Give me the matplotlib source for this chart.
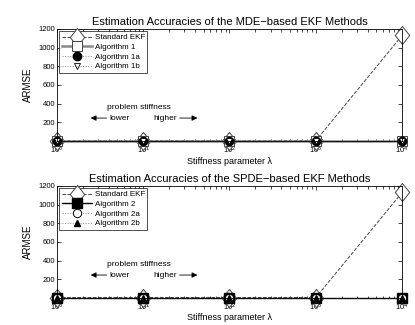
import matplotlib
matplotlib.use("Agg")
import matplotlib.pyplot as plt

plt.rcParams['font.family'] = ['Liberation Sans', 'DejaVu Sans']

# stiffness parameter values
lam = [1, 10, 100, 1000, 10000]

# ARMSE values
std_ekf = [5, 5, 5, 5, 1130]
alg1 = [1, 1, 1, 1, 1]
alg1a = [1, 1, 1, 1, 1]
alg1b = [1, 1, 1, 1, 1]
alg2 = [1, 1, 1, 1, 1]
alg2a = [1, 1, 1, 1, 1]
alg2b = [1, 1, 1, 1, 1]

titles = ['Estimation Accuracies of the MDE\u2212based EKF Methods',
          'Estimation Accuracies of the SPDE\u2212based EKF Methods']
yticks = [200, 400, 600, 800, 1000, 1200]

# MATLAB-like diamond (a bit taller than wide)
diamond = [(0, 1), (0.8, 0), (0, -1), (-0.8, 0), (0, 1)]

fig = plt.figure(figsize=(4.15, 3.25), dpi=100)
ax1 = fig.add_axes([0.137, 0.566, 0.832, 0.345])
ax2 = fig.add_axes([0.137, 0.083, 0.832, 0.345])

# top panel
ax1.plot(lam, std_ekf, '--', color='#444444', lw=0.7, marker=diamond, ms=13,
         mfc='white', mec='#444444', mew=0.7, label='Standard EKF', clip_on=False)
ax1.plot(lam, alg1, '-', color='#888888', lw=1.8, marker='s', ms=7,
         mfc='white', mec='#444444', mew=0.7, label='Algorithm 1', clip_on=False)
ax1.plot(lam, alg1a, ':', color='#888888', lw=0.7, marker='o', ms=6,
         mfc='black', mec='black', label='Algorithm 1a', clip_on=False)
ax1.plot(lam, alg1b, ':', color='#888888', lw=0.7, marker='v', ms=4,
         mfc='white', mec='black', mew=0.6, label='Algorithm 1b', clip_on=False)

# bottom panel
ax2.plot(lam, std_ekf, '--', color='#444444', lw=0.7, marker=diamond, ms=13,
         mfc='white', mec='#444444', mew=0.7, label='Standard EKF', clip_on=False)
ax2.plot(lam, alg2, '-', color='black', lw=1.0, marker='s', ms=7,
         mfc='black', mec='black', label='Algorithm 2', clip_on=False)
ax2.plot(lam, alg2a, ':', color='#888888', lw=0.7, marker='o', ms=6,
         mfc='white', mec='black', mew=0.7, label='Algorithm 2a', clip_on=False)
ax2.plot(lam, alg2b, ':', color='#888888', lw=0.7, marker='^', ms=4,
         mfc='black', mec='black', label='Algorithm 2b', clip_on=False)

for ax, t in zip([ax1, ax2], titles):
    ax.set_xscale('log')
    ax.set_xlim(1, 10000)
    ax.set_ylim(0, 1200)
    ax.set_yticks(yticks)
    ax.set_xticks(lam)
    ax.tick_params(which='both', direction='in', top=True, right=True,
                   labelsize=5.5, width=0.5)
    ax.tick_params(axis='y', pad=1)
    ax.tick_params(axis='x', pad=2.5)
    ax.tick_params(which='major', length=3)
    ax.tick_params(which='minor', length=1.8)
    for s in ax.spines.values():
        s.set_linewidth(0.6)
    ax.set_title(t, fontsize=8, pad=3)
    ax.set_ylabel('ARMSE', fontsize=7, labelpad=4)
    ax.set_xlabel('Stiffness parameter \u03bb', fontsize=6.5, labelpad=0.5)
    leg = ax.legend(loc='upper left', fontsize=5.8, frameon=True, fancybox=False,
                    edgecolor='black', borderpad=0.3, labelspacing=0.25,
                    handlelength=3.8, handletextpad=0.3, borderaxespad=0.3)
    leg.get_frame().set_linewidth(0.6)
    ax.text(10 ** 0.95, 355, 'problem stiffness', fontsize=6, ha='center', va='center')
    ax.annotate('', xy=(10 ** 0.36, 246), xytext=(10 ** 0.61, 246),
                arrowprops=dict(arrowstyle='-|>', color='black', lw=0.6,
                                mutation_scale=8))
    ax.text(10 ** 0.61, 246, 'lower', fontsize=6, ha='left', va='center')
    ax.annotate('', xy=(10 ** 1.66, 246), xytext=(10 ** 1.39, 246),
                arrowprops=dict(arrowstyle='-|>', color='black', lw=0.6,
                                mutation_scale=8))
    ax.text(10 ** 1.39, 246, 'higher', fontsize=6, ha='right', va='center')

fig.savefig('out.png', dpi=100)
